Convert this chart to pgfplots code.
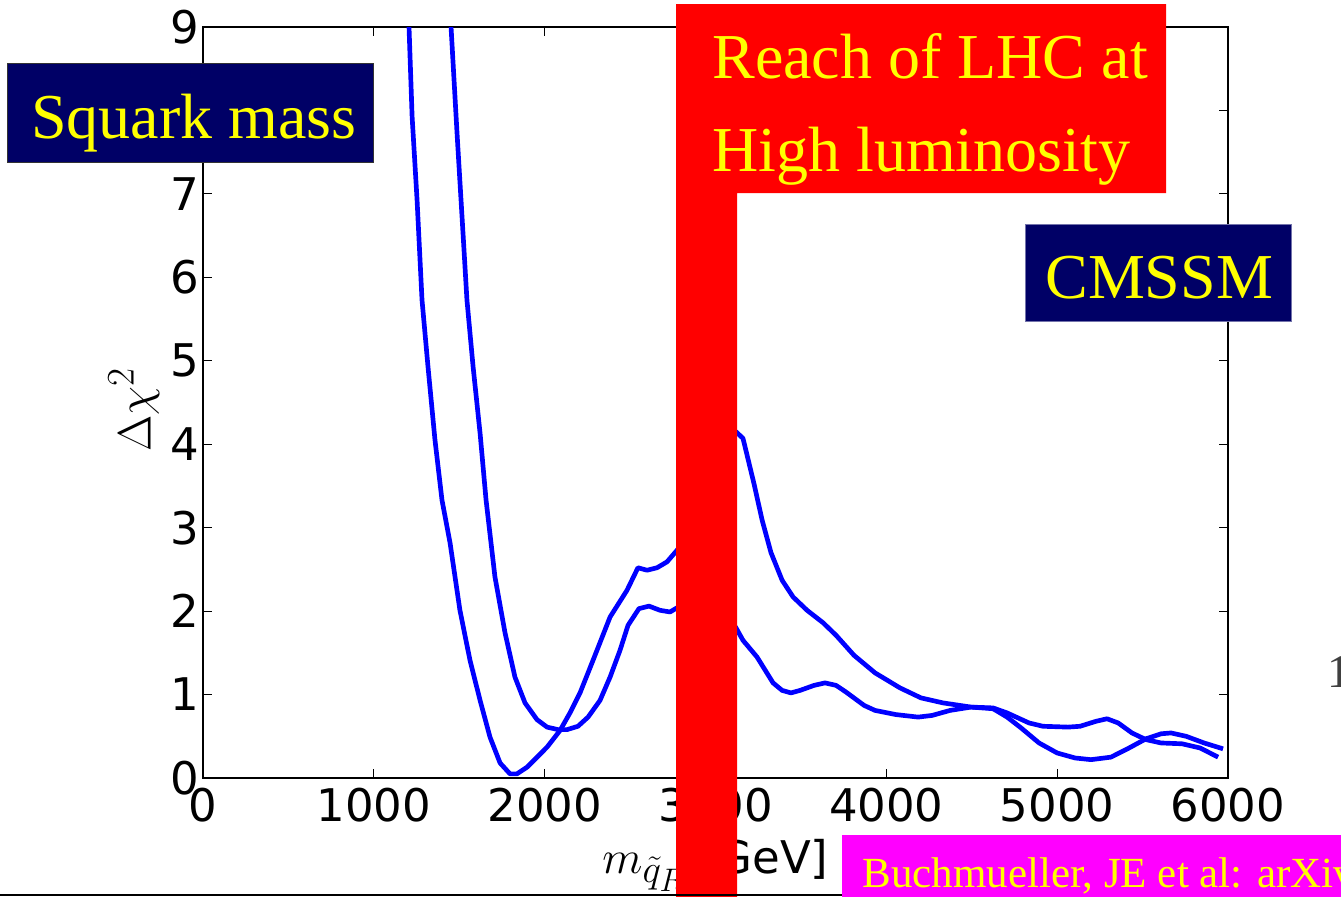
\documentclass[border=0pt]{standalone}
\usepackage{fontspec}
\usepackage{pgfplots}
\pgfplotsset{compat=1.18}
\newfontfamily\dejavu{DejaVu Sans}
\newfontfamily\serif{Liberation Serif}
\definecolor{navy}{RGB}{0,0,102}
\definecolor{lhcred}{RGB}{255,0,0}
\definecolor{txtyellow}{RGB}{255,255,0}
\definecolor{plotblue}{RGB}{0,0,255}
\definecolor{refpink}{RGB}{255,0,255}

% Delta chi^2 profiles of the right-handed squark mass
\pgfplotstableread{
x y
1189 10.0
1206 9.0
1224 7.93
1253 6.93
1282 5.73
1317 4.93
1358 4.05
1399 3.33
1446 2.82
1504 2.01
1563 1.41
1622 0.93
1680 0.49
1739 0.18
1797 0.05
1838 0.05
1897 0.13
2014 0.37
2090 0.57
2148 0.78
2207 1.02
2283 1.41
2383 1.93
2482 2.25
2546 2.52
2599 2.49
2658 2.52
2716 2.59
2775 2.73
2850 2.95
2950 3.35
3050 3.85
3120 4.15
3161 4.07
3225 3.53
3273 3.09
3325 2.70
3390 2.37
3454 2.17
3536 2.01
3630 1.86
3706 1.71
3811 1.47
3934 1.26
4080 1.08
4203 0.96
4332 0.90
4496 0.85
4625 0.83
4707 0.73
4789 0.60
4894 0.42
5000 0.30
5105 0.24
5198 0.22
5315 0.25
5421 0.36
5520 0.47
5608 0.53
5667 0.54
5755 0.50
5860 0.42
5971 0.35
}\curveA

\pgfplotstableread{
x y
1424 10.0
1452 9.0
1487 7.73
1522 6.53
1545 5.73
1581 4.93
1622 4.13
1657 3.33
1709 2.41
1768 1.74
1826 1.21
1885 0.90
1955 0.70
2014 0.61
2078 0.58
2131 0.58
2195 0.62
2254 0.73
2324 0.93
2383 1.21
2441 1.53
2488 1.83
2552 2.03
2611 2.06
2675 2.01
2734 1.99
2775 2.04
2900 2.12
3050 2.00
3120 1.80
3161 1.65
3243 1.45
3337 1.14
3390 1.05
3442 1.02
3495 1.05
3577 1.11
3641 1.14
3706 1.11
3764 1.03
3870 0.87
3934 0.81
4057 0.76
4186 0.73
4268 0.75
4373 0.81
4496 0.85
4625 0.84
4707 0.78
4835 0.66
4917 0.62
5064 0.61
5134 0.62
5228 0.68
5292 0.71
5357 0.66
5438 0.54
5520 0.46
5608 0.42
5731 0.41
5837 0.36
5942 0.25
}\curveB

\begin{document}
\begin{tikzpicture}[x=0.6pt,y=-0.6pt]
\useasboundingbox (0,0) rectangle (1341,896);
\clip (0,0) rectangle (1341,896);

\begin{axis}[
  at={(121.8pt,-466.8pt)}, anchor=south west,
  scale only axis, width=615pt, height=450.6pt,
  xmin=0, xmax=6000, ymin=0, ymax=9,
  xtick={0,1000,...,6000}, ytick={0,1,...,9},
  /pgf/number format/.cd, 1000 sep={}, assume math mode=true,
  /pgfplots/.cd,
  tick align=inside,
  major tick length=5.4pt,
  tick style={line width=0.6pt, black},
  axis line style={line width=1.2pt, black},
  ticklabel style={font=\dejavu\fontsize{27}{32}\selectfont},
  xticklabel style={anchor=north, inner sep=0pt, yshift=-6pt},
  yticklabel style={anchor=east, inner sep=0pt, xshift=-2.4pt},
  label style={font=\fontsize{24.88}{30}\selectfont, scale=1.13},
  xlabel={$m_{\tilde{q}_R}$ {\dejavu\fontsize{23.9}{28}\selectfont[GeV]}},
  xlabel style={at={(axis description cs:0.5,-0.1265)}, anchor=base},
  ylabel={$\Delta\chi^2$},
  ylabel style={at={(axis description cs:-0.0673,0.49)}, anchor=center},
]
\addplot[plotblue, line width=2.8pt, line join=round] table[x=x,y=y] {\curveA};
\addplot[plotblue, line width=2.8pt, line join=round] table[x=x,y=y] {\curveB};
\end{axis}

% LHC high-luminosity reach banner
\fill[lhcred] (676,4) -- (1166,4) -- (1166,193) -- (737,193) -- (737,900) -- (676,900) -- cycle;
\node[anchor=base west, inner sep=0pt, text=txtyellow, font=\serif\fontsize{38.4}{46}\selectfont] at (712,78) {Reach of LHC at};
\node[anchor=base west, inner sep=0pt, text=txtyellow, font=\serif\fontsize{38.4}{46}\selectfont] at (712,171) {High luminosity};

% Title boxes
\filldraw[fill=navy, draw=black!80, line width=0.6pt] (7,63) rectangle (373,162);
\node[anchor=base west, inner sep=0pt, text=txtyellow, font=\serif\fontsize{38.4}{46}\selectfont] at (31,138) {Squark mass};

\filldraw[fill=navy, draw=navy!55!white, line width=0.6pt] (1025,224) rectangle (1291,321);
\node[anchor=base west, inner sep=0pt, text=txtyellow, font=\serif\fontsize{38.4}{46}\selectfont] at (1045,298) {CMSSM};

% Reference tag
\fill[refpink] (842,835) rectangle (1350,900);
\node[anchor=base west, inner sep=0pt, text=txtyellow, font=\serif\fontsize{25.8}{30}\selectfont] at (862,887) {Buchmueller, JE et al: arXiv};

\draw[line width=1.2pt, black] (0,895) -- (842,895);
\node[anchor=base west, inner sep=0pt, text=black!75, font=\serif\fontsize{28}{34}\selectfont] at (1327,687) {1};
\end{tikzpicture}
\end{document}
